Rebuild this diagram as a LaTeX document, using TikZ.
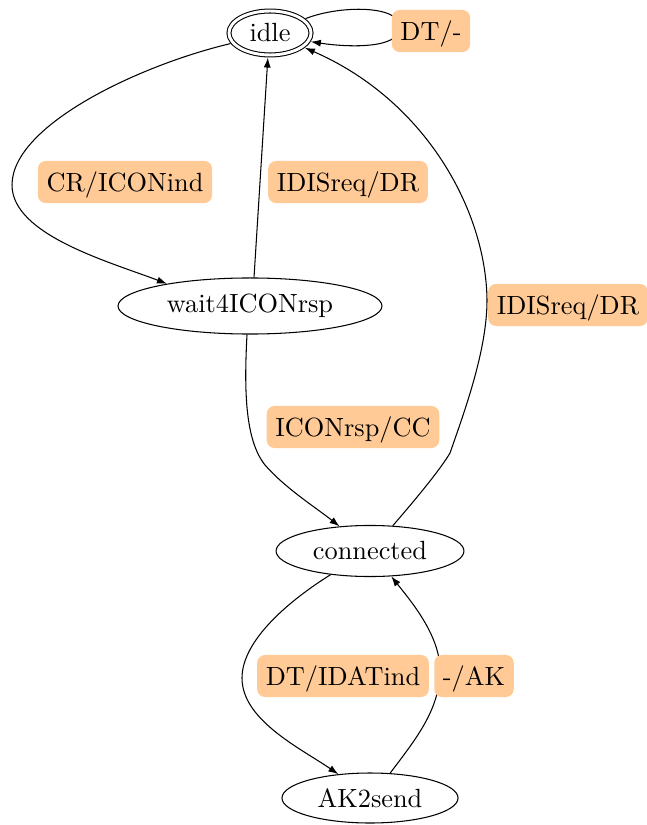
\documentclass[tikz,border=0pt]{standalone}
\usetikzlibrary{shapes.geometric,arrows.meta}
\definecolor{peach}{RGB}{255,202,150}
\begin{document}
\begin{tikzpicture}[x=0.38pt,y=-0.38pt,
  state/.style={draw,ellipse,inner sep=0pt,line width=0.4pt},
  edgelabel/.style={fill=peach,rounded corners=3pt,inner xsep=3.3pt,inner ysep=0pt,
    minimum height=16pt,text depth=0pt},
  trans/.style={line width=0.4pt,-{Latex[length=3.8pt,width=2.7pt]}}]
\useasboundingbox (0,0) rectangle (646,825);

% states
\node[state,double,double distance=1.1pt,outer sep=1pt,minimum width=31.2pt,minimum height=16.7pt] (idle) at (270,33) {idle};
\node[state,minimum width=100.3pt,minimum height=21.3pt] (wait) at (250,306) {wait4ICONrsp};
\node[state,minimum width=71.4pt,minimum height=19.4pt] (conn) at (370,551) {connected};
\node[state,minimum width=66.9pt,minimum height=19pt] (ak) at (370,798) {AK2send};

% transitions
\draw[trans] (idle.195) .. controls (140,65) and (12,125) .. (12,185)
  .. controls (12,235) and (110,262) .. (wait.165);
\draw[trans] (wait.82) -- (idle.265);
\draw[trans] (wait.264) .. controls (244,390) and (245,440) .. (265,465)
  .. controls (285,488) and (315,507) .. (conn.141);
\draw[trans] (conn.48) .. controls (415,500) and (440,470) .. (450,453)
  .. controls (465,410) and (487,350) .. (487,300)
  .. controls (486,210) and (425,100) .. (idle.337);
\draw[trans] (conn.211) .. controls (290,600) and (242,640) .. (242,678)
  .. controls (242,720) and (300,748) .. (ak.143);
\draw[trans] (ak.51) .. controls (415,740) and (440,710) .. (440,670)
  .. controls (440,635) and (410,600) .. (conn.310);
\draw[trans] (idle.22) .. controls (340,5) and (400,5) .. (400,27)
  .. controls (400,50) and (345,47) .. (idle.348);

% transition labels
\node[edgelabel] (lDT) at (431,31) {DT/-};
\node[edgelabel] (lCR) at (125,182) {CR/ICONind};
\node[edgelabel] (lDis1) at (348,182) {IDISreq/DR};
\node[edgelabel] (lDis2) at (568,305) {IDISreq/DR};
\node[edgelabel] (lCC) at (353,427) {ICONrsp/CC};
\node[edgelabel] (lDat) at (343,676) {DT/IDATind};
\node[edgelabel] (lAK) at (474,676) {-/AK};
\end{tikzpicture}
\end{document}
